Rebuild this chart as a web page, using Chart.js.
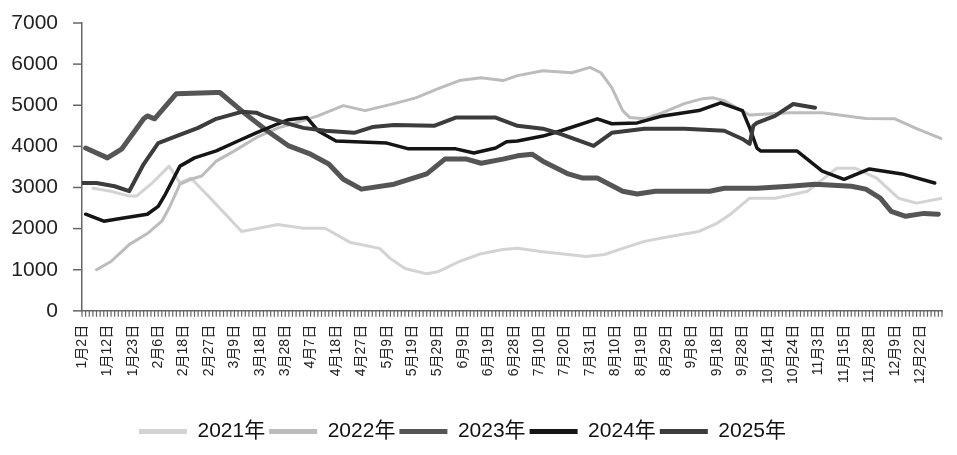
<!DOCTYPE html>
<html>
<head>
<meta charset="utf-8">
<script src="https://cdn.jsdelivr.net/npm/chart.js@4.4.1/dist/chart.umd.min.js"></script>
<style>
  html, body { margin: 0; padding: 0; background: #fff; }
  #c { display: block; }
</style>
</head>
<body>
<canvas id="c" width="957" height="455"></canvas>
<script>
// x 轴刻度标签，每 7 个交易日一个
var dateLabels = ['1月2日','1月12日','1月23日','2月6日','2月18日','2月27日','3月9日','3月18日','3月28日','4月7日',
  '4月18日','4月27日','5月9日','5月19日','5月29日','6月9日','6月19日','6月28日','7月10日','7月20日',
  '7月31日','8月10日','8月19日','8月29日','9月8日','9月18日','9月28日','10月14日','10月24日','11月3日',
  '11月15日','11月28日','12月9日','12月22日'];
var yearNames = ['2021年','2022年','2023年','2024年','2025年'];
var lastDay = 237;

// 各年份：交易日序号 / 数值
var x2021 = [3,8,13,15,19,24,27,30,37,44,54,61,67,74,82,85,89,95,98,104,110,116,120,127,139,144,149,155,162,170,175,179,184,191,200,208,213,219,225,230,237];
var y2021 = [2980,2910,2790,2790,3080,3520,3110,3230,2590,1930,2100,2010,2010,1660,1520,1270,1030,900,950,1200,1390,1490,1520,1440,1320,1370,1520,1690,1810,1930,2130,2370,2740,2740,2910,3470,3470,3230,2740,2620,2740];

var x2022 = [4,8,13,18,22,24,27,30,33,37,42,48,54,60,65,72,78,86,92,98,104,110,116,120,127,135,140,143,146,149,151,155,160,166,171,174,177,184,195,204,216,224,230,237];
var y2022 = [1000,1200,1610,1880,2180,2500,3080,3200,3280,3640,3890,4210,4450,4600,4740,4990,4870,5040,5180,5400,5600,5670,5600,5720,5840,5790,5920,5790,5430,4870,4700,4670,4820,5040,5160,5180,5110,4760,4820,4820,4680,4670,4430,4180];

var x2023 = [1,7,11,17,18,20,26,37,38,45,51,57,63,68,72,77,86,95,100,106,110,116,120,124,127,134,138,142,149,153,158,166,173,177,186,195,202,212,216,220,223,227,232,236];
var y2023 = [3960,3720,3940,4670,4740,4670,5280,5310,5310,4790,4380,4010,3810,3570,3200,2960,3080,3330,3690,3690,3590,3690,3770,3810,3640,3330,3230,3230,2910,2840,2910,2910,2910,2980,2980,3030,3080,3030,2960,2740,2420,2300,2370,2350];

var x2024 = [1,6,11,18,21,23,27,31,37,43,48,54,57,62,65,70,84,90,103,108,114,117,120,127,132,142,146,153,160,170,176,182,184,186,187,197,204,210,217,226,235];
var y2024 = [2350,2180,2250,2350,2540,2840,3520,3720,3890,4130,4330,4550,4650,4700,4380,4130,4080,3940,3940,3840,3960,4110,4130,4250,4380,4670,4550,4570,4740,4870,5060,4870,4450,3960,3890,3890,3400,3200,3450,3330,3110];

var x2025 = [0,4,9,13,17,21,26,32,37,44,48,50,56,61,67,75,80,86,97,103,114,120,127,132,141,146,155,166,177,182,184,185,186,191,196,202];
var y2025 = [3110,3110,3030,2910,3570,4080,4250,4450,4670,4840,4820,4740,4570,4450,4380,4330,4470,4520,4500,4700,4700,4500,4430,4300,4010,4330,4430,4430,4380,4180,4060,4500,4570,4740,5030,4940];

var yTicks = [0,1000,2000,3000,4000,5000,6000,7000];

function pts(xs, ys) {
  return xs.map(function(x, i) { return { x: x, y: ys[i] }; });
}

var FONT = "'Liberation Sans', 'Noto Sans CJK SC', sans-serif";
var AXIS = '#666';
var series = [
  { d: pts(x2021, y2021), color: '#d3d3d3', w: 3 },
  { d: pts(x2022, y2022), color: '#bcbcbc', w: 3 },
  { d: pts(x2023, y2023), color: '#555555', w: 5 },
  { d: pts(x2024, y2024), color: '#151515', w: 3.5 },
  { d: pts(x2025, y2025), color: '#3c3c3c', w: 4 }
];

var datasets = series.map(function(s, i) {
  return {
    label: yearNames[i],
    data: s.d,
    borderColor: s.color,
    backgroundColor: s.color,
    borderWidth: s.w,
    pointRadius: 0,
    tension: 0,
    borderJoinStyle: 'round',
    borderCapStyle: 'round',
    order: series.length - i
  };
});

// 刻度短线（每个交易日一条）与图例左移
var axisMarks = {
  id: 'axisMarks',
  afterLayout: function(chart) {
    chart.legend.left -= 14;
    chart.legend.right -= 14;
  },
  afterDraw: function(chart) {
    var ctx = chart.ctx, xs = chart.scales.x, ys = chart.scales.y;
    var bottom = chart.chartArea.bottom, left = chart.chartArea.left;
    ctx.save();
    ctx.strokeStyle = AXIS;
    ctx.lineWidth = 1.2;
    for (var i = 0; i <= lastDay; i++) {
      var px = xs.getPixelForValue(i);
      ctx.beginPath();
      ctx.moveTo(px, bottom);
      ctx.lineTo(px, bottom + 6);
      ctx.stroke();
    }
    ctx.lineWidth = 1.5;
    yTicks.forEach(function(v) {
      var py = ys.getPixelForValue(v);
      ctx.beginPath();
      ctx.moveTo(left - 9, py);
      ctx.lineTo(left, py);
      ctx.stroke();
    });
    ctx.restore();
  }
};

new Chart(document.getElementById('c'), {
  type: 'line',
  data: { datasets: datasets },
  plugins: [axisMarks],
  options: {
    responsive: false,
    animation: false,
    devicePixelRatio: 1,
    layout: { padding: { left: 11, right: 15, top: 23, bottom: 3 } },
    plugins: {
      tooltip: { enabled: false },
      legend: {
        position: 'bottom',
        labels: {
          boxWidth: 48,
          boxHeight: 5,
          padding: 4,
          color: '#111',
          font: { family: FONT, size: 21 },
          sort: function(a, b) { return a.datasetIndex - b.datasetIndex; },
          generateLabels: function(chart) {
            var items = Chart.defaults.plugins.legend.labels.generateLabels(chart);
            items.forEach(function(it) { it.fillStyle = it.strokeStyle; it.lineWidth = 0; });
            return items;
          }
        }
      }
    },
    scales: {
      x: {
        type: 'linear',
        min: 0,
        max: lastDay,
        offset: false,
        border: { color: AXIS, width: 1.5 },
        grid: { drawOnChartArea: false, drawTicks: true, tickLength: 6, color: 'rgba(0,0,0,0)' },
        ticks: {
          stepSize: 1,
          autoSkip: false,
          minRotation: 90,
          maxRotation: 90,
          padding: 8,
          color: '#222',
          font: { family: FONT, size: 14 },
          callback: function(v) {
            return (v % 7 === 0 && dateLabels[v / 7]) ? dateLabels[v / 7] : '';
          }
        },
        afterFit: function(scale) {
          scale.height += 25;
          scale.paddingRight = 0;
        }
      },
      y: {
        min: 0,
        max: 7000,
        border: { color: AXIS, width: 1.5 },
        grid: { drawOnChartArea: false, drawTicks: true, tickLength: 9, color: 'rgba(0,0,0,0)' },
        afterBuildTicks: function(scale) { scale.ticks = yTicks.map(function(v) { return { value: v }; }); },
        afterFit: function(scale) {
          scale.width = 71;
          scale.paddingTop = 0;
          scale.paddingBottom = 0;
        },
        ticks: {
          padding: 15,
          color: '#222',
          font: { family: FONT, size: 21 },
          callback: function(v) { return String(v); }
        }
      }
    }
  }
});
</script>
</body>
</html>
